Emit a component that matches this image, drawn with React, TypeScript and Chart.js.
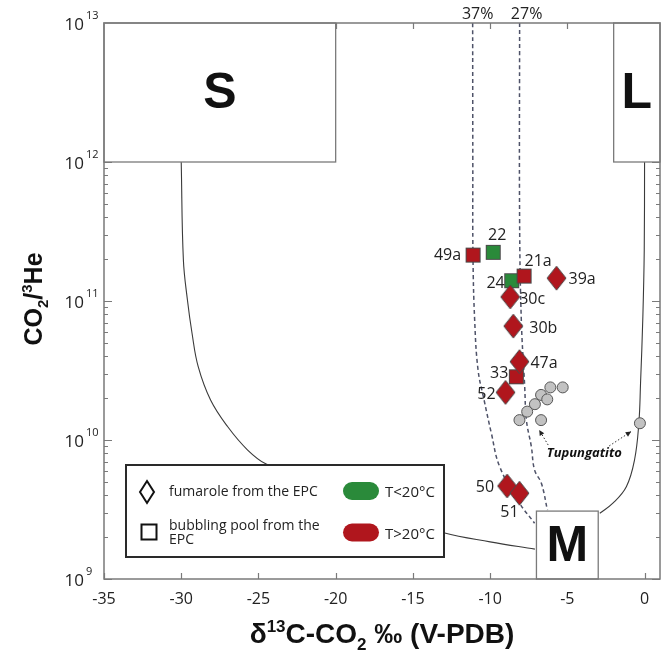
import React, { useEffect, useRef } from 'react';
import { Chart, registerables } from 'chart.js';
Chart.register(...registerables);

// ---------- data ----------
const fumaroleNames = ['39a', '30c', '30b', '47a', '52', '50', '51'];
const fumaroleD13C = [-5.7, -8.7, -8.5, -8.1, -9.0, -8.9, -8.1];
const fumaroleRatio = [1.46e11, 1.07e11, 6.6e10, 3.66e10, 2.2e10, 4.67e9, 4.14e9];

const hotPoolNames = ['49a', '21a', '33'];
const hotPoolD13C = [-11.1, -7.8, -8.3];
const hotPoolRatio = [2.14e11, 1.51e11, 2.85e10];

const coldPoolNames = ['22', '24'];
const coldPoolD13C = [-9.8, -8.6];
const coldPoolRatio = [2.24e11, 1.4e11];

const tupD13C = [-5.3, -6.1, -6.7, -6.3, -7.1, -7.6, -8.1, -6.7, -0.3];
const tupRatio = [2.39e10, 2.39e10, 2.11e10, 1.96e10, 1.81e10, 1.6e10, 1.39e10, 1.39e10, 1.32e10];

// mixing curves
const smD13C = [-30, -29.86, -29.6, -29.3, -28.9, -28.1, -27.0, -25.7, -24.5, -20.4, -16.5, -13.0, -10.0, -7.1];
const smRatio = [1e12, 1.97e11, 1.02e11, 5.86e10, 3.37e10, 1.94e10, 1.25e10, 8.47e9, 6.71e9, 4.37e9, 2.88e9, 2.15e9, 1.85e9, 1.64e9];

const lmD13C = [0, -0.02, -0.11, -0.26, -0.37, -0.65, -1.18, -2.05, -2.9];
const lmRatio = [1e12, 2.33e11, 7.71e10, 2.56e10, 1.32e10, 7.18e9, 4.61e9, 3.51e9, 2.97e9];

const mix37D13C = [-11.13, -11.12, -11.11, -11.0, -10.78, -10.39, -9.92, -9.38, -8.09, -7.12];
const mix37Ratio = [1e13, 1e12, 2.14e11, 7.3e10, 3.19e10, 1.94e10, 1.12e10, 6.43e9, 3.51e9, 2.52e9];

const mix27D13C = [-8.09, -8.09, -7.98, -7.76, -7.65, -7.33, -7.12, -6.68, -6.29];
const mix27Ratio = [1e13, 3.83e11, 7.3e10, 2.42e10, 1.39e10, 8.95e9, 6.08e9, 4.88e9, 3.13e9];

const mixLabels = ['37%', '27%'];

// end-member boxes
const boxNames = ['S', 'L', 'M'];
const boxXMin = [-35, -2, -7];
const boxXMax = [-20, 1, -3];
const boxYMin = [1e12, 1e12, 1e9];
const boxYMax = [1e13, 1e13, 3.08e9];

// axis ticks
const xTickValues = [-35, -30, -25, -20, -15, -10, -5, 0];
const yDecades = [9, 10, 11, 12, 13];

// Tupungatito annotation
const tupTextX = -3.9;
const tupTextY = 8.05e9;
const arrowTailX = [-6.24, -2.29];
const arrowTailY = [9.2e9, 9.06e9];
const arrowHeadX = [-6.82, -0.87];
const arrowHeadY = [1.18e10, 1.15e10];

// ---------- styles ----------
const RED = '#b0161d';
const GREEN = '#2a8a3a';
const SANS = '"Open Sans", "Noto Sans", sans-serif';
const BOLD = '"Liberation Sans", Arial, sans-serif';

const labelOffsets: Record<string, [number, number, CanvasTextAlign]> = {
  '22': [4, -17, 'center'],
  '49a': [-12, 0, 'right'],
  '21a': [14, -15, 'center'],
  '24': [-7, 3, 'right'],
  '39a': [12, 1, 'left'],
  '30c': [9, 3, 'left'],
  '30b': [16, 2, 'left'],
  '47a': [11, 2, 'left'],
  '33': [-8, -3, 'right'],
  '52': [-10, 2, 'right'],
  '50': [-13, 1, 'right'],
  '51': [-10, 19, 'center'],
};

function makeDiamond(fill: string) {
  const w = 19, h = 24;
  const c = document.createElement('canvas');
  c.width = w + 2; c.height = h + 2;
  const g = c.getContext('2d')!;
  g.beginPath();
  g.moveTo(1 + w / 2, 1); g.lineTo(1 + w, 1 + h / 2); g.lineTo(1 + w / 2, 1 + h); g.lineTo(1, 1 + h / 2);
  g.closePath();
  g.fillStyle = fill; g.fill();
  g.strokeStyle = '#4a4a4a'; g.lineWidth = 1; g.stroke();
  return c;
}
function makeSquare(fill: string) {
  const s = 15;
  const c = document.createElement('canvas');
  c.width = s + 2; c.height = s + 2;
  const g = c.getContext('2d')!;
  g.fillStyle = fill; g.fillRect(1, 1, s, s);
  g.strokeStyle = '#4a4a4a'; g.lineWidth = 1; g.strokeRect(1.5, 1.5, s - 1, s - 1);
  return c;
}

type Part = { t: string; s?: number; dy?: number };
function rich(ctx: CanvasRenderingContext2D, parts: Part[], x: number, y: number, base: number, family: string, weight: string) {
  let total = 0;
  const ws = parts.map((p) => {
    ctx.font = `${weight} ${p.s ?? base}px ${family}`;
    const w = ctx.measureText(p.t).width;
    total += w;
    return w;
  });
  let cx = x - total / 2;
  ctx.textAlign = 'left';
  ctx.textBaseline = 'alphabetic';
  parts.forEach((p, i) => {
    ctx.font = `${weight} ${p.s ?? base}px ${family}`;
    ctx.fillText(p.t, cx, y + (p.dy ?? 0));
    cx += ws[i];
  });
}

const decor = {
  id: 'decor',
  afterDatasetsDraw(chart: any) {
    const { ctx, chartArea: a, scales } = chart;
    const xs = scales.x, ys = scales.y;
    const X = (v: number) => xs.getPixelForValue(v);
    const Y = (v: number) => ys.getPixelForValue(v);
    ctx.save();

    // ticks
    ctx.strokeStyle = '#7a7a7a';
    ctx.lineWidth = 1.2;
    ctx.beginPath();
    xTickValues.forEach((v) => {
      const px = Math.round(X(v)) + 0.5;
      ctx.moveTo(px, a.bottom); ctx.lineTo(px, a.bottom - 6);
      ctx.moveTo(px, a.top); ctx.lineTo(px, a.top + 6);
    });
    yDecades.forEach((d) => {
      for (let m = 1; m <= 9; m++) {
        const v = m * Math.pow(10, d);
        if (v > 1e13) continue;
        const py = Math.round(Y(v)) + 0.5;
        const len = m === 1 ? 8 : 4;
        ctx.moveTo(a.left, py); ctx.lineTo(a.left + len, py);
        ctx.moveTo(a.right, py); ctx.lineTo(a.right - len, py);
      }
    });
    ctx.stroke();

    // end-member boxes
    boxNames.forEach((n, i) => {
      const l = X(boxXMin[i]), r = X(boxXMax[i]), t = Y(boxYMax[i]), b = Y(boxYMin[i]);
      ctx.fillStyle = '#fff';
      ctx.fillRect(l, t, r - l, b - t);
      ctx.strokeStyle = '#7a7a7a';
      ctx.lineWidth = 1.3;
      ctx.strokeRect(l, t, r - l, b - t);
      ctx.fillStyle = '#111';
      ctx.font = `bold 50px ${BOLD}`;
      ctx.textAlign = 'center';
      ctx.textBaseline = 'middle';
      ctx.fillText(n, (l + r) / 2, (t + b) / 2 + 2);
    });

    // frame
    ctx.strokeStyle = '#7a7a7a';
    ctx.lineWidth = 1.5;
    ctx.strokeRect(a.left, a.top, a.right - a.left, a.bottom - a.top);

    // x tick labels
    ctx.fillStyle = '#222';
    ctx.font = `16px ${SANS}`;
    ctx.textAlign = 'center';
    ctx.textBaseline = 'middle';
    xTickValues.forEach((v) => ctx.fillText(String(v), X(v), a.bottom + 20));

    // y tick labels
    yDecades.forEach((d) => {
      const py = Y(Math.pow(10, d));
      ctx.font = `17px ${SANS}`;
      ctx.textAlign = 'right';
      ctx.textBaseline = 'middle';
      ctx.fillText('10', a.left - 20, py + 2);
      ctx.font = `11px ${SANS}`;
      ctx.textAlign = 'left';
      ctx.fillText(String(d), a.left - 18, py - 7);
    });

    // axis titles
    ctx.fillStyle = '#111';
    rich(ctx, [
      { t: 'δ' }, { t: '13', s: 17, dy: -11 }, { t: 'C-CO' }, { t: '2', s: 17, dy: 7 }, { t: ' ‰ (V-PDB)' },
    ], (a.left + a.right) / 2, 643, 28, BOLD, 'bold');
    ctx.save();
    ctx.translate(42, (a.top + a.bottom) / 2 - 2);
    ctx.rotate(-Math.PI / 2);
    rich(ctx, [
      { t: 'CO' }, { t: '2', s: 15, dy: 6 }, { t: '/' }, { t: '3', s: 15, dy: -10 }, { t: 'He' },
    ], 0, 0, 25, BOLD, 'bold');
    ctx.restore();

    // mixing labels
    ctx.fillStyle = '#222';
    ctx.font = `16px ${SANS}`;
    ctx.textAlign = 'center';
    ctx.textBaseline = 'middle';
    ctx.fillText(mixLabels[0], X(mix37D13C[0]) + 5, a.top - 9);
    ctx.fillText(mixLabels[1], X(mix27D13C[0]) + 7, a.top - 9);

    // point labels
    ctx.font = `16px ${SANS}`;
    ctx.textBaseline = 'middle';
    const groups: [string[], number[], number[]][] = [
      [fumaroleNames, fumaroleD13C, fumaroleRatio],
      [hotPoolNames, hotPoolD13C, hotPoolRatio],
      [coldPoolNames, coldPoolD13C, coldPoolRatio],
    ];
    groups.forEach(([names, xv, yv]) => {
      names.forEach((n, i) => {
        const o = labelOffsets[n];
        ctx.textAlign = o[2];
        ctx.fillText(n, X(xv[i]) + o[0], Y(yv[i]) + o[1]);
      });
    });

    // Tupungatito
    ctx.font = `italic bold 13px ${SANS}`;
    ctx.textAlign = 'center';
    ctx.fillStyle = '#111';
    ctx.fillText('Tupungatito', X(tupTextX), Y(tupTextY));
    arrowTailX.forEach((_, i) => {
      const x0 = X(arrowTailX[i]), y0 = Y(arrowTailY[i]), x1 = X(arrowHeadX[i]), y1 = Y(arrowHeadY[i]);
      ctx.strokeStyle = '#333';
      ctx.lineWidth = 1;
      ctx.setLineDash([1.5, 2]);
      ctx.beginPath(); ctx.moveTo(x0, y0); ctx.lineTo(x1, y1); ctx.stroke();
      ctx.setLineDash([]);
      const ang = Math.atan2(y1 - y0, x1 - x0);
      ctx.fillStyle = '#222';
      ctx.beginPath();
      ctx.moveTo(x1, y1);
      ctx.lineTo(x1 - 6 * Math.cos(ang - 0.45), y1 - 6 * Math.sin(ang - 0.45));
      ctx.lineTo(x1 - 6 * Math.cos(ang + 0.45), y1 - 6 * Math.sin(ang + 0.45));
      ctx.closePath(); ctx.fill();
    });

    // legend
    const lx = a.left + 22, ly = a.top + 442, lw = 318, lh = 92;
    ctx.fillStyle = '#fff';
    ctx.fillRect(lx, ly, lw, lh);
    ctx.strokeStyle = '#2a2a2a';
    ctx.lineWidth = 2;
    ctx.strokeRect(lx, ly, lw, lh);
    // diamond
    const dx = lx + 21, dy = ly + 27;
    ctx.beginPath();
    ctx.moveTo(dx, dy - 11); ctx.lineTo(dx + 7, dy); ctx.lineTo(dx, dy + 11); ctx.lineTo(dx - 7, dy); ctx.closePath();
    ctx.strokeStyle = '#111'; ctx.lineWidth = 2; ctx.stroke();
    // square
    ctx.strokeRect(lx + 15.5, ly + 59.5, 15, 15);
    ctx.fillStyle = '#222';
    ctx.font = `14px ${SANS}`;
    ctx.textAlign = 'left';
    ctx.textBaseline = 'alphabetic';
    ctx.fillText('fumarole from the EPC', lx + 43, ly + 31);
    ctx.fillText('bubbling pool from the', lx + 43, ly + 65);
    ctx.fillText('EPC', lx + 43, ly + 79);
    ctx.font = `15px ${SANS}`;
    ctx.fillText('T<20°C', lx + 259, ly + 32);
    ctx.fillText('T>20°C', lx + 259, ly + 74);
    const pill = (cx: number, cy: number, col: string) => {
      ctx.fillStyle = col;
      ctx.beginPath();
      (ctx as any).roundRect(cx - 18, cy - 9, 36, 18, 9);
      ctx.fill();
    };
    pill(lx + 235, ly + 26, GREEN);
    pill(lx + 235, ly + 67.5, RED);

    ctx.restore();
  },
};

export default function App() {
  const ref = useRef<HTMLCanvasElement>(null);
  useEffect(() => {
    const toPts = (xs: number[], ys: number[]) => xs.map((x, i) => ({ x, y: ys[i] }));
    const curve = (xs: number[], ys: number[], dashed: boolean) => ({
      data: toPts(xs, ys),
      showLine: true,
      pointRadius: 0,
      borderColor: dashed ? '#4e5268' : '#3a3a3a',
      borderWidth: dashed ? 1.5 : 1.1,
      borderDash: dashed ? [4, 3] : [],
      tension: 0.4,
      fill: false,
    });
    const chart = new Chart(ref.current!, {
      type: 'scatter',
      data: {
        datasets: [
          { data: toPts(fumaroleD13C, fumaroleRatio), pointStyle: makeDiamond(RED) as any, pointRadius: 8 },
          { data: toPts(hotPoolD13C, hotPoolRatio), pointStyle: makeSquare(RED) as any, pointRadius: 8 },
          { data: toPts(coldPoolD13C, coldPoolRatio), pointStyle: makeSquare(GREEN) as any, pointRadius: 8 },
          {
            data: toPts(tupD13C, tupRatio), pointStyle: 'circle', pointRadius: 5.5,
            backgroundColor: '#c2c2c2', borderColor: '#555', borderWidth: 1,
          },
          curve(mix37D13C, mix37Ratio, true),
          curve(mix27D13C, mix27Ratio, true),
          curve(smD13C, smRatio, false),
          curve(lmD13C, lmRatio, false),
        ] as any,
      },
      options: {
        animation: false,
        responsive: true,
        maintainAspectRatio: false,
        layout: { padding: { left: 0, right: 8, top: 23, bottom: 0 } },
        plugins: { legend: { display: false }, tooltip: { enabled: false } },
        events: [],
        scales: {
          x: {
            type: 'linear', min: -35, max: 1,
            ticks: { display: false }, grid: { display: false }, border: { display: false },
            afterFit: (s: any) => { s.height = 75; },
          },
          y: {
            type: 'logarithmic', min: 1e9, max: 1e13,
            ticks: { display: false }, grid: { display: false }, border: { display: false },
            afterFit: (s: any) => { s.width = 104; },
          },
        },
      } as any,
      plugins: [decor],
    });
    return () => chart.destroy();
  }, []);
  return (
    <div style={{ position: 'fixed', left: 0, top: 0, width: 669, height: 654, background: '#fff' }}>
      <canvas ref={ref} />
    </div>
  );
}
